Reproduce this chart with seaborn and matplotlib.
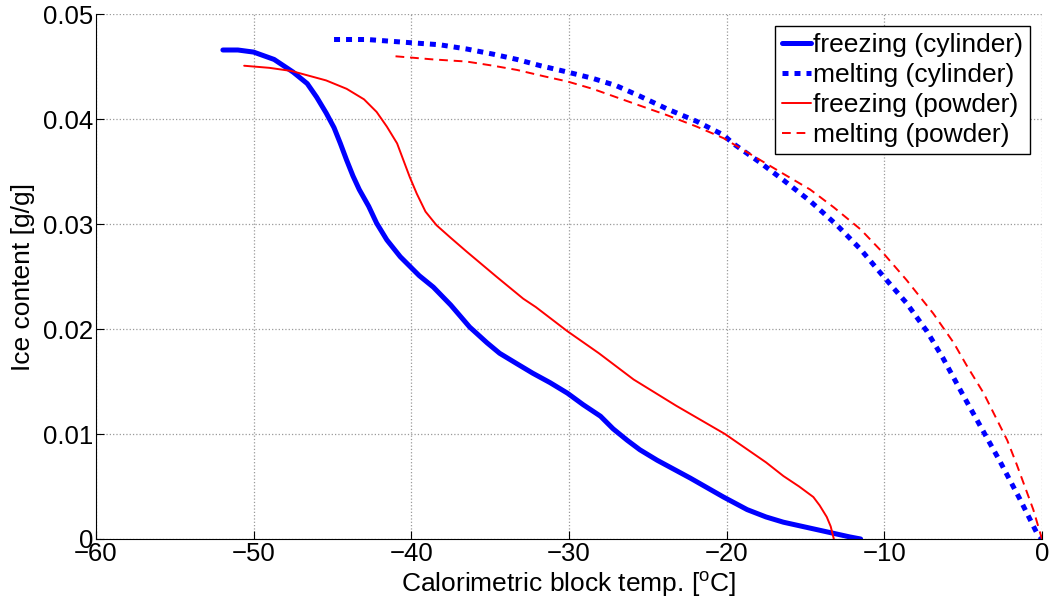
import pandas as pd
import matplotlib
matplotlib.use('Agg')
import matplotlib.pyplot as plt
import seaborn as sns

# Curves
freeze_cyl_t = [-51.95, -51.0, -50.0, -48.7, -47.5, -46.6, -46.0, -45.4, -44.9, -44.5,
                -44.1, -43.7, -43.3, -42.7, -42.2, -41.55, -40.7, -39.5, -38.6, -37.5,
                -36.3, -35.2, -34.4, -33.3, -32.3, -31.2, -30.1, -29.1, -28.0, -27.2,
                -26.3, -25.5, -24.4, -22.3, -20.2, -18.7, -17.5, -16.4, -14.3, -12.2,
                -11.5]
freeze_cyl_ice = [0.0466, 0.0466, 0.0464, 0.0457, 0.0445, 0.0434, 0.0421, 0.0406, 0.0392, 0.0377,
                  0.0361, 0.0346, 0.0333, 0.0317, 0.0301, 0.0285, 0.0269, 0.0251, 0.0240, 0.0223,
                  0.0202, 0.0187, 0.0177, 0.0167, 0.0158, 0.0149, 0.0139, 0.0128, 0.0117, 0.0105,
                  0.0094, 0.0085, 0.0075, 0.0058, 0.0040, 0.0028, 0.0021, 0.0016, 0.0009, 0.0002,
                  0.0]

melt_cyl_t = [-44.9, -42.8, -40.1, -38.2, -36.5, -34.8, -33.3, -31.8, -30.1, -28.5,
              -27.0, -25.5, -23.8, -21.9, -20.2, -19.6, -17.9, -16.4, -14.7, -13.0,
              -11.5, -10.1, -8.6, -7.3, -6.3, -5.0, -3.7, -2.7, -1.4, -0.3, 0.0]
melt_cyl_ice = [0.0476, 0.0476, 0.0473, 0.0471, 0.0467, 0.0462, 0.0457, 0.0451, 0.0445, 0.0439,
                0.0432, 0.0422, 0.0410, 0.0398, 0.0385, 0.0377, 0.0359, 0.0342, 0.0322, 0.0299,
                0.0276, 0.0251, 0.0225, 0.0198, 0.0173, 0.0137, 0.0102, 0.0075, 0.0038, 0.0005, 0.0]

freeze_pow_t = [-50.6, -49.0, -47.6, -45.4, -44.1, -43.0, -42.2, -41.55, -40.9, -40.5,
                -40.1, -39.65, -39.1, -38.4, -37.5, -36.5, -34.6, -32.9, -32.1, -30.1,
                -28.1, -25.9, -23.2, -20.1, -17.5, -16.4, -15.4, -14.5, -14.1, -13.65,
                -13.4, -13.2]
freeze_pow_ice = [0.0451, 0.0449, 0.0446, 0.0437, 0.0429, 0.0419, 0.0407, 0.0393, 0.0377, 0.0361,
                  0.0345, 0.0329, 0.0312, 0.0299, 0.0287, 0.0274, 0.0250, 0.0229, 0.0221, 0.0198,
                  0.0177, 0.0152, 0.0127, 0.0100, 0.0073, 0.0060, 0.0050, 0.0040, 0.0032, 0.0021,
                  0.0012, 0.0]

melt_pow_t = [-41.0, -38.6, -36.5, -34.8, -33.3, -31.6, -30.1, -28.5, -27.0, -25.5,
              -23.8, -21.9, -20.2, -16.4, -14.7, -13.2, -11.5, -10.1, -8.6, -6.9,
              -5.6, -4.8, -3.7, -3.1, -2.2, -1.6, -0.55, 0.0]
melt_pow_ice = [0.0460, 0.0457, 0.0455, 0.0451, 0.0447, 0.0441, 0.0436, 0.0429, 0.0421, 0.0413,
                0.0404, 0.0393, 0.0382, 0.0348, 0.0333, 0.0316, 0.0295, 0.0273, 0.0247, 0.0215,
                0.0187, 0.0166, 0.0139, 0.0121, 0.0094, 0.0071, 0.0028, 0.0]

x_ticks = [-60, -50, -40, -30, -20, -10, 0]
y_ticks = [0, 0.01, 0.02, 0.03, 0.04, 0.05]

sns.set_theme(style="white")
plt.rcParams['font.family'] = ['Liberation Sans', 'DejaVu Sans']
plt.rcParams['mathtext.default'] = 'regular'
plt.rcParams['text.color'] = 'black'
plt.rcParams['axes.labelcolor'] = 'black'

fig = plt.figure(figsize=(10.51, 6.12), dpi=100)
ax = fig.add_axes([0.0913, 0.1193, 0.9001, 0.8573])

series = [
    (freeze_cyl_t, freeze_cyl_ice, 'freezing (cylinder)', 'blue', 3.6, None),
    (melt_cyl_t, melt_cyl_ice, 'melting (cylinder)', 'blue', 3.6, (1.2, 1.2)),
    (freeze_pow_t, freeze_pow_ice, 'freezing (powder)', 'red', 1.4, None),
    (melt_pow_t, melt_pow_ice, 'melting (powder)', 'red', 1.4, (4.5, 3.0)),
]

for t, ice, label, color, lw, dash in series:
    df = pd.DataFrame({'t': t, 'ice': ice})
    sns.lineplot(data=df, x='t', y='ice', ax=ax, color=color, linewidth=lw,
                 sort=False, estimator=None, label=label)
    l = ax.get_lines()[-1]
    if dash is not None:
        l.set_dashes(dash)
        l.set_dash_capstyle('butt')

ax.set_xlim(-60, 0)
ax.set_ylim(0, 0.05)
ax.set_xticks(x_ticks)
ax.set_yticks(y_ticks)
ax.set_xticklabels(['\u221260', '\u221250', '\u221240', '\u221230', '\u221220', '\u221210', '0'])
ax.set_yticklabels(['0', '0.01', '0.02', '0.03', '0.04', '0.05'])
ax.tick_params(direction='in', length=6, width=0.8, labelsize=18.5, color='black',
               labelcolor='black', bottom=True, left=True, pad=2)

ax.grid(True, linestyle=':', color='#999999', linewidth=0.9)
for s in ['top', 'right']:
    ax.spines[s].set_visible(False)
for s in ['left', 'bottom']:
    ax.spines[s].set_color('black')
    ax.spines[s].set_linewidth(0.8)

ax.set_xlabel('Calorimetric block temp. [$^{o}$C]', fontsize=19, labelpad=3)
ax.set_ylabel('Ice content [g/g]', fontsize=19, labelpad=6)

leg = ax.legend(loc='upper right', fontsize=19, frameon=True, fancybox=False,
                framealpha=1, edgecolor='black', handlelength=1.1, handletextpad=0.1,
                labelspacing=0.23, borderpad=0.25, borderaxespad=0.45)
leg.get_frame().set_linewidth(1.0)
for txt in leg.get_texts():
    txt.set_color('black')

plt.savefig('out.png', dpi=100)
